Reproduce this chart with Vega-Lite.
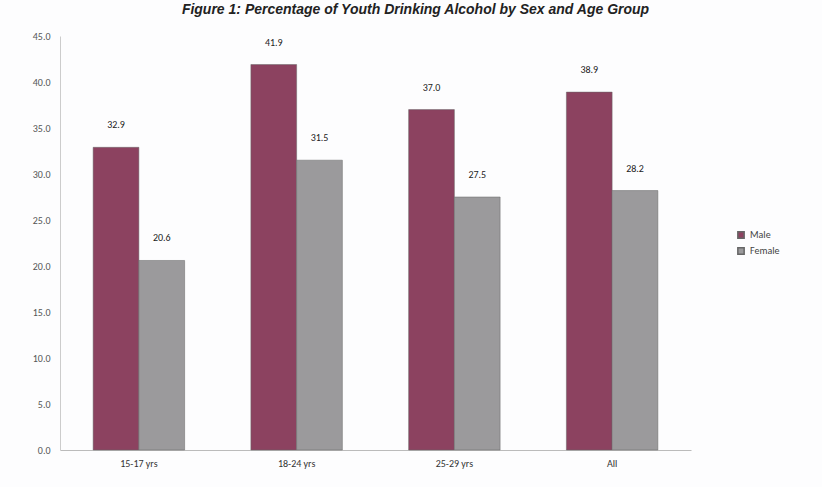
{
  "$schema": "https://vega.github.io/schema/vega-lite/v6.json",
  "width": 631,
  "height": 414,
  "autosize": {"type": "none"},
  "padding": {"left": 60, "top": 36, "right": 131, "bottom": 37},
  "background": "#fdfdfe",
  "title": {
    "text": "Figure 1: Percentage of Youth Drinking Alcohol by Sex and Age Group",
    "anchor": "middle",
    "offset": 0,
    "baseline": "bottom",
    "fontSize": 14,
    "fontStyle": "italic",
    "fontWeight": "bold",
    "font": "Liberation Sans",
    "color": "#222",
    "dx": 40
  },
  "data": {
    "values": [
      {"age": "15-17 yrs", "sex": "Male", "pct": 32.9},
      {"age": "15-17 yrs", "sex": "Female", "pct": 20.6},
      {"age": "18-24 yrs", "sex": "Male", "pct": 41.9},
      {"age": "18-24 yrs", "sex": "Female", "pct": 31.5},
      {"age": "25-29 yrs", "sex": "Male", "pct": 37.0},
      {"age": "25-29 yrs", "sex": "Female", "pct": 27.5},
      {"age": "All", "sex": "Male", "pct": 38.9},
      {"age": "All", "sex": "Female", "pct": 28.2}
    ]
  },
  "encoding": {
    "x": {
      "field": "age", "type": "nominal", "sort": null,
      "scale": {"paddingInner": 0.42, "paddingOuter": 0.21},
      "axis": {"title": null, "labelAngle": 0, "ticks": false, "labelPadding": 8, "labelFontSize": 10, "labelColor": "#333", "domainColor": "#bbb", "labelFont": "Carlito, Liberation Sans Narrow, Liberation Sans, sans-serif"}
    },
    "xOffset": {"field": "sex", "type": "nominal", "sort": ["Male", "Female"], "scale": {"paddingInner": 0}},
    "y": {
      "field": "pct", "type": "quantitative",
      "scale": {"domain": [0, 45]},
      "axis": {"title": null, "values": [0, 5, 10, 15, 20, 25, 30, 35, 40, 45], "format": ".1f", "ticks": false, "grid": false, "labelPadding": 10, "labelFontSize": 10, "labelColor": "#555", "domainColor": "#ccc", "labelFont": "Carlito, Liberation Sans Narrow, Liberation Sans, sans-serif"}
    }
  },
  "layer": [
    {
      "mark": {"type": "bar", "stroke": "#666", "strokeWidth": 0.5},
      "encoding": {
        "color": {
          "field": "sex", "type": "nominal",
          "scale": {"domain": ["Male", "Female"], "range": ["#8c4260", "#9b9a9c"]},
          "legend": {"title": null, "orient": "none", "legendX": 676, "legendY": 194, "symbolType": "square", "symbolSize": 40, "labelFontSize": 10, "labelColor": "#444", "labelFont": "Carlito, Liberation Sans Narrow, Liberation Sans, sans-serif", "rowPadding": 2}
        }
      }
    },
    {
      "mark": {"type": "text", "dy": -22, "fontSize": 10, "color": "#222", "font": "Carlito, Liberation Sans Narrow, Liberation Sans, sans-serif"},
      "encoding": {
        "text": {"field": "pct", "type": "quantitative", "format": ".1f"}
      }
    }
  ],
  "config": {"view": {"stroke": null}}
}
